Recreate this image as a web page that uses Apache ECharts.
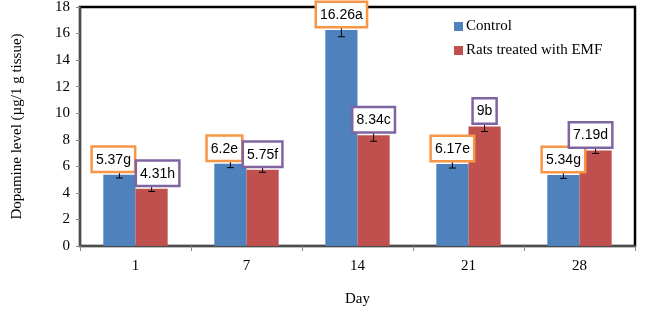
<!DOCTYPE html>
<html>
<head>
<meta charset="utf-8">
<script src="https://cdn.jsdelivr.net/npm/echarts@6/dist/echarts.min.js"></script>
<style>html,body{margin:0;padding:0;background:#fff}#c{width:650px;height:310px}</style>
</head>
<body>
<div id="c"></div>
<script>
var days = ['1', '7', '14', '21', '28'];
var controlValues = [5.37, 6.2, 16.26, 6.17, 5.34];
var emfValues = [4.31, 5.75, 8.34, 9, 7.19];
var controlErrors = [0.25, 0.3, 0.5, 0.3, 0.25];
var emfErrors = [0.2, 0.2, 0.45, 0.38, 0.22];
var controlLetters = ['g', 'e', 'a', 'e', 'g'];
var emfLetters = ['h', 'f', 'c', 'b', 'd'];
var yTicks = [0, 2, 4, 6, 8, 10, 12, 14, 16, 18];

// label box horizontal nudges (styling only, px)
var controlLabelShift = [-6, -6, 0, 0, 0];
var emfLabelShift = [6, 0, 0, 0, -5];

var SERIF = '"Liberation Serif","Times New Roman",serif';
var SANS = '"Liberation Sans",Arial,sans-serif';
var BAR_FRAC = 0.58;

function makeRender(values, errors, letters, shifts, side, boxColor) {
  return function (params, api) {
    var i = api.value(0);
    var v = values[i], e = errors[i];
    var band = api.size([1, 0])[0];
    var bw = band * BAR_FRAC / 2;
    var c = api.coord([i, v]);
    var x = c[0] + side * bw / 2;
    var yTop = api.coord([i, v + e])[1];
    var yBot = api.coord([i, v - e])[1];
    var cap = 3.5;
    var ls = { stroke: '#000', lineWidth: 1 };
    return {
      type: 'group',
      children: [
        { type: 'line', shape: { x1: x, y1: yTop, x2: x, y2: yBot }, style: ls },
        { type: 'line', shape: { x1: x - cap, y1: yTop, x2: x + cap, y2: yTop }, style: ls },
        { type: 'line', shape: { x1: x - cap, y1: yBot, x2: x + cap, y2: yBot }, style: ls },
        { type: 'text', x: x + shifts[i], y: c[1] - 4,
          style: { text: String(v) + letters[i], align: 'center', verticalAlign: 'bottom',
            font: '14px ' + SANS, fill: '#000', backgroundColor: '#fff',
            borderColor: boxColor, borderWidth: 2.5, padding: [5, 3, 4, 3] } }
      ]
    };
  };
}

var chart = echarts.init(document.getElementById('c'));
chart.setOption({
  animation: false,
  grid: { left: 80, right: 15, top: 7, bottom: 64, outerBoundsMode: 'none', containLabel: false,
    show: true, borderColor: '#000', borderWidth: 2.5, backgroundColor: '#fff' },
  legend: {
    orient: 'vertical', left: 449, top: 14, itemWidth: 9, itemHeight: 9, itemGap: 9,
    icon: 'rect', data: ['Control', 'Rats treated with EMF'],
    textStyle: { fontFamily: SERIF, fontSize: 15, color: '#000', padding: [0, 0, 0, -2] }
  },
  xAxis: {
    type: 'category', data: days,
    name: 'Day', nameLocation: 'middle', nameGap: 46,
    nameTextStyle: { fontFamily: SERIF, fontSize: 15, color: '#000' },
    axisLine: { lineStyle: { color: '#666', width: 1.5 } },
    axisTick: { show: true, length: 5, lineStyle: { color: '#888' } },
    axisLabel: { fontFamily: SERIF, fontSize: 15, color: '#000', margin: 13 }
  },
  yAxis: {
    type: 'value', min: 0, max: 18, interval: 2,
    name: 'Dopamine level (µg/1 g tissue)', nameLocation: 'middle', nameGap: 55, nameRotate: 90,
    nameTextStyle: { fontFamily: SERIF, fontSize: 15, color: '#000' },
    axisLine: { show: true, lineStyle: { color: '#666', width: 1.5 } },
    axisTick: { show: true, length: 4, lineStyle: { color: '#888' } },
    splitLine: { show: false },
    axisLabel: { fontFamily: SERIF, fontSize: 15, color: '#000', margin: 10,
      customValues: yTicks }
  },
  series: [
    { name: 'Control', type: 'bar', data: controlValues, barGap: '0%', barCategoryGap: '42%',
      itemStyle: { color: '#4F81BD' }, z: 2 },
    { name: 'Rats treated with EMF', type: 'bar', data: emfValues, barGap: '0%', barCategoryGap: '42%',
      itemStyle: { color: '#C0504D' }, z: 2 },
    { type: 'custom', data: days.map(function (d, i) { return [i]; }), z: 5,
      renderItem: makeRender(controlValues, controlErrors, controlLetters, controlLabelShift, -1, '#F79646'),
      encode: { x: 0 }, silent: true },
    { type: 'custom', data: days.map(function (d, i) { return [i]; }), z: 6,
      renderItem: makeRender(emfValues, emfErrors, emfLetters, emfLabelShift, 1, '#8064A2'),
      encode: { x: 0 }, silent: true }
  ]
});
</script>
</body>
</html>
